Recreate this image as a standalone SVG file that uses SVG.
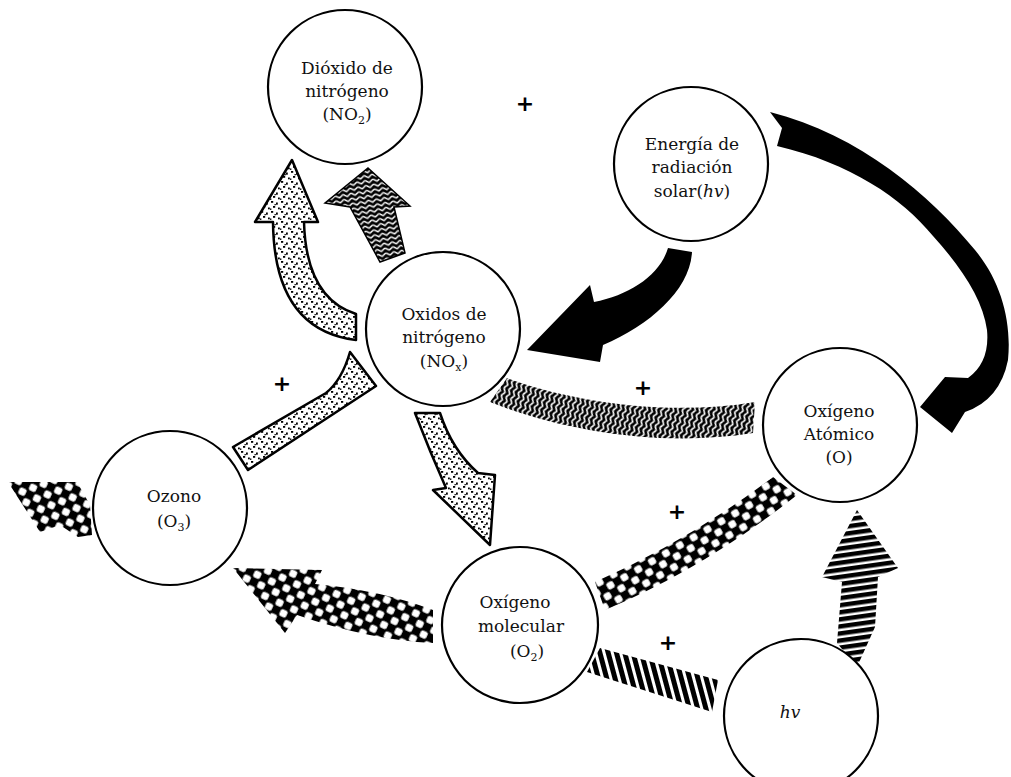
<svg xmlns="http://www.w3.org/2000/svg" width="1011" height="777" viewBox="0 0 1011 777">
<style>
.node circle{fill:#fff;stroke:#000;stroke-width:2.2}
.node text{font-family:"DejaVu Serif","Liberation Serif",serif;font-size:17px;fill:#111;text-anchor:middle}
.plus{font-family:"DejaVu Sans","Liberation Sans",sans-serif;font-size:22px;font-weight:bold;fill:#000;text-anchor:middle}
.dot{fill:url(#dots);stroke:#000;stroke-width:2.5;stroke-linejoin:round}
.solid{fill:#000}
</style>
<defs>
<pattern id="dots" width="10" height="10" patternUnits="userSpaceOnUse">
<rect width="10" height="10" fill="#fff"/>
<rect x="1" y="1" width="2.2" height="1.8" fill="#000"/>
<rect x="6" y="2.5" width="1.8" height="2.2" fill="#000"/>
<rect x="3" y="6" width="2.2" height="1.8" fill="#000"/>
<rect x="8" y="7.5" width="1.8" height="1.8" fill="#000"/>
<rect x="0" y="8.5" width="1.4" height="1.4" fill="#000"/>
<rect x="4.5" y="4" width="1.3" height="1.3" fill="#000"/>
</pattern>
<pattern id="zigA" width="8" height="5" patternUnits="userSpaceOnUse" patternTransform="rotate(-10)">
<rect width="8" height="5" fill="#000"/>
<path d="M0,1.2 L4,3.8 L8,1.2" fill="none" stroke="#fff" stroke-width="1.5"/>
</pattern>
<pattern id="zigB" width="8" height="5" patternUnits="userSpaceOnUse" patternTransform="rotate(-70)">
<rect width="8" height="5" fill="#000"/>
<path d="M0,1.2 L4,3.8 L8,1.2" fill="none" stroke="#fff" stroke-width="1.6"/>
</pattern>
<pattern id="chkA" width="16" height="16" patternUnits="userSpaceOnUse" patternTransform="rotate(-30)">
<rect width="16" height="16" fill="#000"/>
<rect x="0.4" y="0.4" width="7.4" height="7.4" rx="2" fill="#fff"/>
<rect x="8.4" y="8.4" width="7.4" height="7.4" rx="2" fill="#fff"/>
</pattern>
<pattern id="chkB" width="16" height="16" patternUnits="userSpaceOnUse" patternTransform="rotate(25)">
<rect width="16" height="16" fill="#000"/>
<rect x="0.4" y="0.4" width="7.4" height="7.4" rx="2" fill="#fff"/>
<rect x="8.4" y="8.4" width="7.4" height="7.4" rx="2" fill="#fff"/>
</pattern>
<pattern id="strV" width="8" height="8" patternUnits="userSpaceOnUse" patternTransform="rotate(-15)">
<rect width="8" height="8" fill="#fff"/>
<rect width="5" height="8" fill="#000"/>
</pattern>
<pattern id="strH" width="8" height="7" patternUnits="userSpaceOnUse" patternTransform="rotate(-8)">
<rect width="8" height="7" fill="#fff"/>
<rect width="8" height="4.5" fill="#000"/>
</pattern>
</defs>

<g id="connectors">
<path class="dot" d="M292,160 L318,222 L304,222 Q306,298 356,314 L356,340 Q274,330 273,222 L255,222 Z"/>
<path d="M368,168 L410,206 L394,207 L405,253 L380,262 L350,207 L325,203 Z" fill="url(#zigA)" stroke="#000" stroke-width="1.5"/>
<path class="solid" d="M668,248 L692,252 C690,290 650,325 603,345 L600,362 L527,350 L590,285 L594,302 C630,295 660,275 668,248 Z"/>
<path class="solid" d="M770,112 L782,128 L777,146 C850,163 902,198 933,236 C962,268 983,300 987,330 Q990,362 968,378 L945,377 L920,407 L952,433 L965,412 Q1000,400 1008,360 C1012,320 1000,280 975,250 C930,195 860,135 770,112 Z"/>
<path d="M507,378 C560,398 660,418 755,402 L753,433 C660,448 560,430 490,402 Z" fill="url(#zigB)"/>
<path class="dot" d="M350,352 L376,386 L248,470 L233,447 L326,393 Q342,380 350,352 Z"/>
<path class="dot" d="M415,413 L440,413 Q452,450 478,473 L495,475 L490,545 L433,490 L446,488 Q430,452 415,413 Z"/>
<path d="M595,582 Q690,540 773,477 L797,495 Q705,568 605,610 Z" fill="url(#chkA)"/>
<path d="M433,610 Q380,590 315,584 L322,570 L233,568 L285,633 L297,615 Q370,640 433,643 Z" fill="url(#chkB)"/>
<path d="M8,482 L77,482 L90,505 L92,535 L78,537 L60,525 L40,532 Z" fill="url(#chkB)"/>
<path d="M600,648 L718,680 L712,712 L587,672 Z" fill="url(#strV)"/>
<path d="M857,510 L898,568 L878,577 L875,627 L857,667 L837,643 L842,582 L822,577 Z" fill="url(#strH)"/>
</g>

<g id="plus-signs">
<text class="plus" x="525" y="111">+</text>
<text class="plus" x="282" y="391">+</text>
<text class="plus" x="643" y="395">+</text>
<text class="plus" x="677" y="519">+</text>
<text class="plus" x="668" y="650">+</text>
</g>

<g id="node-no2" class="node">
<circle cx="345" cy="87" r="77"/>
<text x="347" y="74">Dióxido de</text>
<text x="347" y="97">nitrógeno</text>
<text x="347" y="120">(NO<tspan font-size="11" dy="4">2</tspan><tspan dy="-4">)</tspan></text>
</g>

<g id="node-solar" class="node">
<circle cx="691" cy="164" r="77"/>
<text x="692" y="150">Energía de</text>
<text x="692" y="173">radiación</text>
<text x="692" y="197">solar(<tspan font-style="italic">hv</tspan>)</text>
</g>

<g id="node-nox" class="node">
<circle cx="443" cy="329" r="77"/>
<text x="444" y="320">Oxidos de</text>
<text x="444" y="343">nitrógeno</text>
<text x="444" y="367">(NO<tspan font-size="11" dy="4">x</tspan><tspan dy="-4">)</tspan></text>
</g>

<g id="node-ozono" class="node">
<circle cx="170" cy="508" r="77"/>
<text x="174" y="502">Ozono</text>
<text x="174" y="527">(O<tspan font-size="11" dy="4">3</tspan><tspan dy="-4">)</tspan></text>
</g>

<g id="node-o2" class="node">
<circle cx="520" cy="625" r="78"/>
<text x="515" y="608">Oxígeno</text>
<text x="521" y="632">molecular</text>
<text x="527" y="657">(O<tspan font-size="11" dy="4">2</tspan><tspan dy="-4">)</tspan></text>
</g>

<g id="node-o" class="node">
<circle cx="840" cy="425" r="77"/>
<text x="839" y="417">Oxígeno</text>
<text x="839" y="440">Atómico</text>
<text x="839" y="463">(O)</text>
</g>

<g id="node-hv" class="node">
<circle cx="801" cy="716" r="77"/>
<text x="790" y="718" font-style="italic">hv</text>
</g>
</svg>
